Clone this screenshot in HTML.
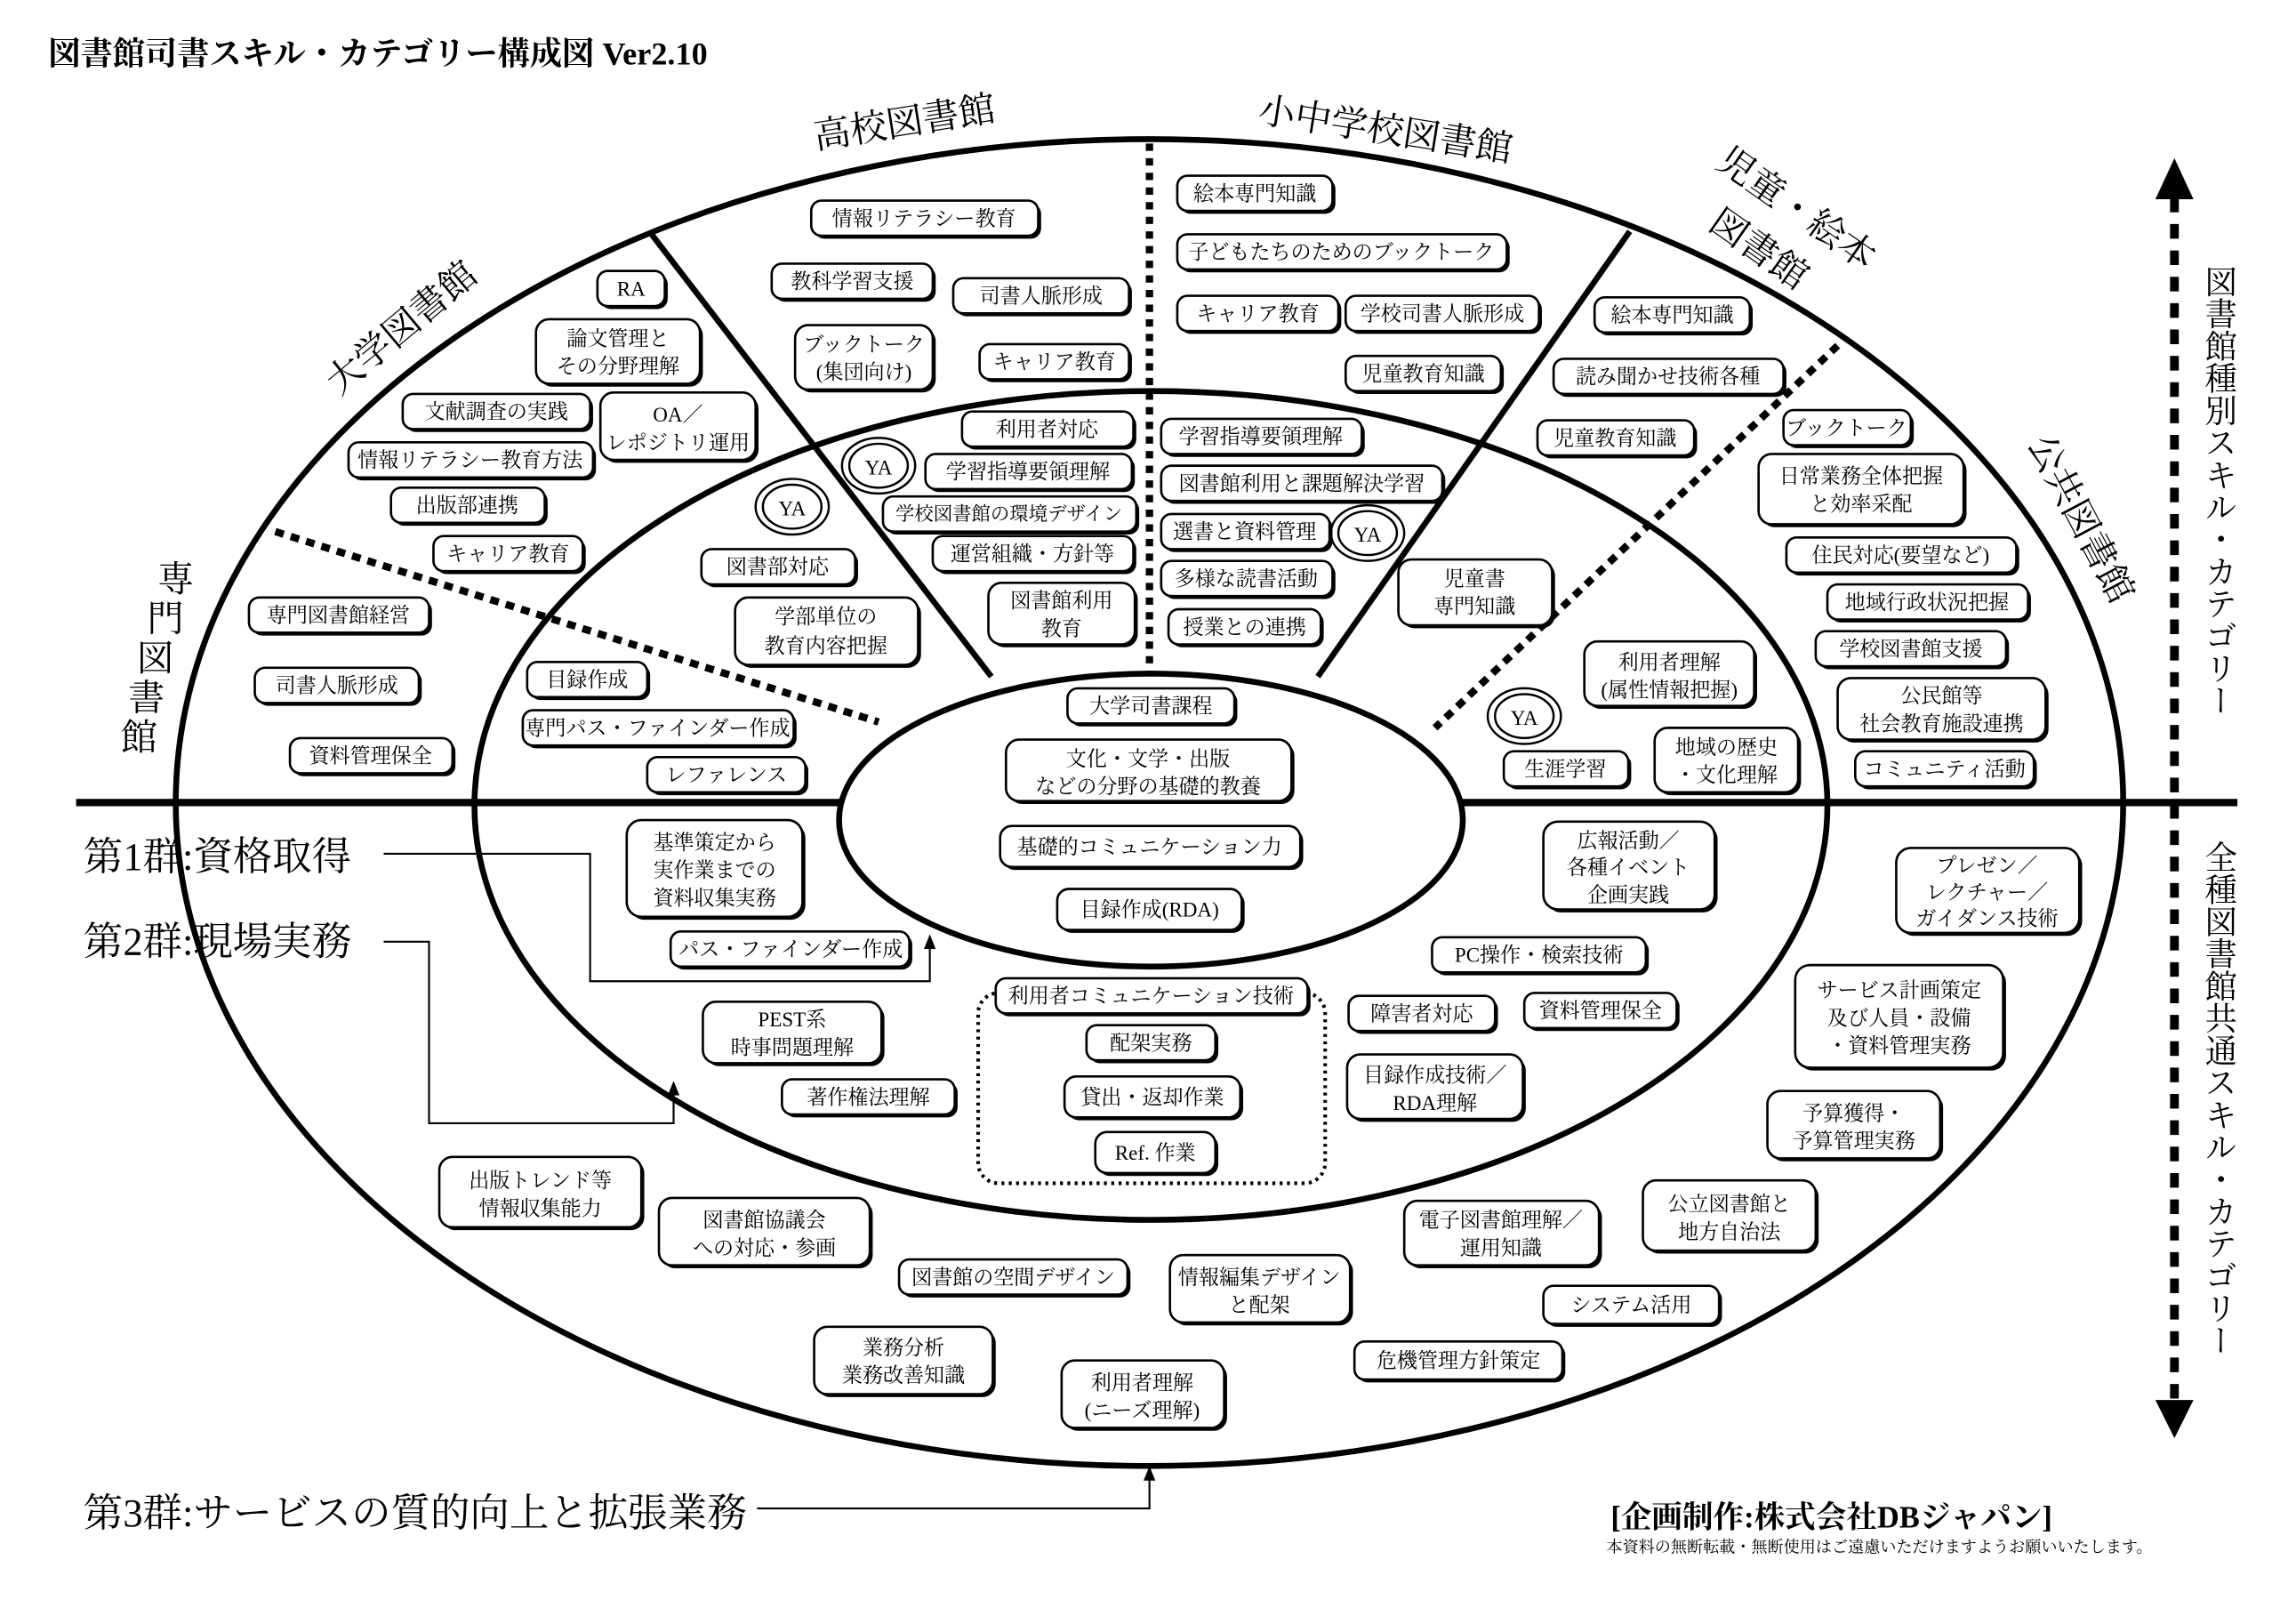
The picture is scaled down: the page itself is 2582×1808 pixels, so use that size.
<!DOCTYPE html>
<html><head><meta charset="utf-8">
<style>
html,body{margin:0;padding:0;background:#fff;}
svg{display:block;}
text{font-family:"Liberation Serif","Noto Serif CJK JP","Noto Sans CJK JP",serif;fill:#000;}
.b text,.t{font-size:14px;text-anchor:middle;dominant-baseline:central;}
.sh{fill:#000;}
.bx{fill:#fff;stroke:#000;stroke-width:1.6;}
.big{font-size:25px;}
</style></head>
<body>
<svg width="2582" height="1808" viewBox="0 0 1568 1098" xmlns="http://www.w3.org/2000/svg">
<rect width="1568" height="1098" fill="#fff"/>
<text x="33" y="44" style="font-size:22px;font-weight:bold">図書館司書スキル・カテゴリー構成図 Ver2.10</text>

<ellipse cx="785" cy="548" rx="665" ry="453" fill="none" stroke="#000" stroke-width="4"/>
<ellipse cx="786" cy="550" rx="462" ry="283" fill="none" stroke="#000" stroke-width="4"/>
<line x1="52" y1="548" x2="1528" y2="548" stroke="#000" stroke-width="5"/>
<line x1="445" y1="160" x2="677" y2="462" stroke="#000" stroke-width="4"/>
<line x1="1113" y1="158" x2="900" y2="462" stroke="#000" stroke-width="4"/>
<line x1="785" y1="98" x2="785" y2="468" stroke="#000" stroke-width="5" stroke-dasharray="5,5"/>
<line x1="188" y1="363" x2="600" y2="493" stroke="#000" stroke-width="5" stroke-dasharray="6,5"/>
<line x1="1255" y1="236" x2="980" y2="497" stroke="#000" stroke-width="5" stroke-dasharray="6,5"/>
<ellipse cx="786" cy="560" rx="213" ry="100" fill="#fff" stroke="#000" stroke-width="4"/>

<line x1="1485" y1="135" x2="1485" y2="958" stroke="#000" stroke-width="6" stroke-dasharray="10,8"/>
<polygon points="1485,108 1472,136 1498,136" fill="#000"/>
<polygon points="1485,982 1472,956 1498,956" fill="#000"/>
<rect x="1500" y="185" width="32" height="300" fill="#fff"/>
<rect x="1500" y="575" width="32" height="350" fill="#fff"/>
<g style="font-size:22px" text-anchor="middle">
<text x="1515" y="335" style="writing-mode:tb;glyph-orientation-vertical:0">図書館種別スキル・カテゴリー</text>
<text x="1515" y="750" style="writing-mode:tb;glyph-orientation-vertical:0">全種図書館共通スキル・カテゴリー</text>
</g>

<text class="big" x="618" y="92" text-anchor="middle" transform="rotate(-9 618 85)">高校図書館</text>
<text class="big" x="946" y="97" text-anchor="middle" transform="rotate(9 946 90)">小中学校図書館</text>
<text class="big" x="275" y="232" text-anchor="middle" transform="rotate(-40 275 225)">大学図書館</text>
<text class="big" x="1225" y="150" text-anchor="middle" transform="rotate(35 1225 145)">児童・絵本</text>
<text class="big" x="1200" y="178" text-anchor="middle" transform="rotate(35 1200 172)">図書館</text>
<text class="big" x="1420" y="362" text-anchor="middle" transform="rotate(62 1420 355)">公共図書館</text>
<g class="big" text-anchor="middle">
<text x="120" y="404">専</text><text x="113" y="431">門</text><text x="106" y="458">図</text><text x="100" y="485">書</text><text x="95" y="512">館</text>
</g>

<text x="57" y="594" style="font-size:27px">第1群:資格取得</text>
<text x="57" y="652" style="font-size:27px">第2群:現場実務</text>
<text x="57" y="1042" style="font-size:27px">第3群:サービスの質的向上と拡張業務</text>
<polyline points="262,583 403,583 403,670 635,670 635,645" fill="none" stroke="#000" stroke-width="1.3"/>
<polygon points="635,638 631,648 639,648" fill="#000"/>
<polyline points="262,643 293,643 293,767 460,767 460,745" fill="none" stroke="#000" stroke-width="1.3"/>
<polygon points="460,738 456,748 464,748" fill="#000"/>
<polyline points="517,1030 785,1030 785,1008" fill="none" stroke="#000" stroke-width="1.3"/>
<polygon points="785,1001 781,1011 789,1011" fill="#000"/>

<text x="1100" y="1043" style="font-size:21px;font-weight:bold">[企画制作:株式会社DBジャパン]</text>
<text x="1097" y="1060" style="font-size:11px">本資料の無断転載・無断使用はご遠慮いただけますようお願いいたします。</text>

<rect x="668" y="678" width="237" height="130" rx="14" fill="none" stroke="#000" stroke-width="2.5" stroke-dasharray="2,3"/>

<g fill="#fff" stroke="#000" stroke-width="1.5">
<ellipse cx="541" cy="346" rx="25" ry="19"/><ellipse cx="541" cy="346" rx="20" ry="15"/>
<ellipse cx="600" cy="318" rx="25" ry="19"/><ellipse cx="600" cy="318" rx="20" ry="15"/>
<ellipse cx="934" cy="364" rx="25" ry="19"/><ellipse cx="934" cy="364" rx="20" ry="15"/>
<ellipse cx="1041" cy="489" rx="25" ry="19"/><ellipse cx="1041" cy="489" rx="20" ry="15"/>
</g>
<g class="t"><text class="t" x="541" y="347">YA</text><text class="t" x="600" y="319">YA</text><text class="t" x="934" y="365">YA</text><text class="t" x="1041" y="490">YA</text></g>

<g class="b">
<rect class="sh" x="556" y="139" width="155" height="24" rx="7"/><rect class="bx" x="554" y="137" width="155" height="24" rx="7"/><text x="631" y="149">情報リテラシー教育</text>
<rect class="sh" x="529" y="182" width="110" height="24" rx="7"/><rect class="bx" x="527" y="180" width="110" height="24" rx="7"/><text x="582" y="192">教科学習支援</text>
<rect class="sh" x="653" y="192" width="120" height="24" rx="7"/><rect class="bx" x="651" y="190" width="120" height="24" rx="7"/><text x="711" y="202">司書人脈形成</text>
<rect class="sh" x="545" y="224" width="94" height="44" rx="9"/><rect class="bx" x="543" y="222" width="94" height="44" rx="9"/><text x="590" y="235">ブックトーク</text><text x="590" y="254">(集団向け)</text>
<rect class="sh" x="671" y="237" width="102" height="24" rx="7"/><rect class="bx" x="669" y="235" width="102" height="24" rx="7"/><text x="720" y="247">キャリア教育</text>
<rect class="sh" x="410" y="187" width="46" height="24" rx="7"/><rect class="bx" x="408" y="185" width="46" height="24" rx="7"/><text x="431" y="197">RA</text>
<rect class="sh" x="368" y="220" width="112" height="44" rx="9"/><rect class="bx" x="366" y="218" width="112" height="44" rx="9"/><text x="422" y="231">論文管理と</text><text x="422" y="250">その分野理解</text>
<rect class="sh" x="277" y="271" width="128" height="24" rx="7"/><rect class="bx" x="275" y="269" width="128" height="24" rx="7"/><text x="339" y="281">文献調査の実践</text>
<rect class="sh" x="412" y="270" width="106" height="46" rx="9"/><rect class="bx" x="410" y="268" width="106" height="46" rx="9"/><text x="463" y="283">OA／</text><text x="463" y="302">レポジトリ運用</text>
<rect class="sh" x="240" y="304" width="167" height="24" rx="7"/><rect class="bx" x="238" y="302" width="167" height="24" rx="7"/><text x="321" y="314">情報リテラシー教育方法</text>
<rect class="sh" x="269" y="335" width="105" height="24" rx="7"/><rect class="bx" x="267" y="333" width="105" height="24" rx="7"/><text x="319" y="345">出版部連携</text>
<rect class="sh" x="298" y="368" width="102" height="24" rx="7"/><rect class="bx" x="296" y="366" width="102" height="24" rx="7"/><text x="347" y="378">キャリア教育</text>
<rect class="sh" x="172" y="410" width="123" height="24" rx="7"/><rect class="bx" x="170" y="408" width="123" height="24" rx="7"/><text x="231" y="420">専門図書館経営</text>
<rect class="sh" x="176" y="458" width="112" height="24" rx="7"/><rect class="bx" x="174" y="456" width="112" height="24" rx="7"/><text x="230" y="468">司書人脈形成</text>
<rect class="sh" x="200" y="506" width="111" height="24" rx="7"/><rect class="bx" x="198" y="504" width="111" height="24" rx="7"/><text x="253" y="516">資料管理保全</text>
<rect class="sh" x="481" y="377" width="105" height="24" rx="7"/><rect class="bx" x="479" y="375" width="105" height="24" rx="7"/><text x="531" y="387">図書部対応</text>
<rect class="sh" x="504" y="410" width="125" height="46" rx="9"/><rect class="bx" x="502" y="408" width="125" height="46" rx="9"/><text x="564" y="421">学部単位の</text><text x="564" y="441">教育内容把握</text>
<rect class="sh" x="362" y="454" width="82" height="24" rx="7"/><rect class="bx" x="360" y="452" width="82" height="24" rx="7"/><text x="401" y="464">目録作成</text>
<rect class="sh" x="359" y="487" width="185" height="24" rx="7"/><rect class="bx" x="357" y="485" width="185" height="24" rx="7"/><text x="449" y="497">専門パス・ファインダー作成</text>
<rect class="sh" x="444" y="519" width="108" height="24" rx="7"/><rect class="bx" x="442" y="517" width="108" height="24" rx="7"/><text x="496" y="529">レファレンス</text>

<rect class="sh" x="659" y="283" width="117" height="24" rx="7"/><rect class="bx" x="657" y="281" width="117" height="24" rx="7"/><text x="715" y="293">利用者対応</text>
<rect class="sh" x="634" y="312" width="141" height="24" rx="7"/><rect class="bx" x="632" y="310" width="141" height="24" rx="7"/><text x="702" y="322">学習指導要領理解</text>
<rect class="sh" x="605" y="341" width="173" height="24" rx="7"/><rect class="bx" x="603" y="339" width="173" height="24" rx="7"/><text x="689" y="351" style="font-size:13px">学校図書館の環境デザイン</text>
<rect class="sh" x="639" y="368" width="137" height="24" rx="7"/><rect class="bx" x="637" y="366" width="137" height="24" rx="7"/><text x="705" y="378">運営組織・方針等</text>
<rect class="sh" x="677" y="400" width="100" height="42" rx="9"/><rect class="bx" x="675" y="398" width="100" height="42" rx="9"/><text x="725" y="410">図書館利用</text><text x="725" y="429">教育</text>

<rect class="sh" x="806" y="122" width="106" height="24" rx="7"/><rect class="bx" x="804" y="120" width="106" height="24" rx="7"/><text x="857" y="132">絵本専門知識</text>
<rect class="sh" x="806" y="162" width="225" height="24" rx="7"/><rect class="bx" x="804" y="160" width="225" height="24" rx="7"/><text x="916" y="172">子どもたちのためのブックトーク</text>
<rect class="sh" x="806" y="204" width="110" height="24" rx="7"/><rect class="bx" x="804" y="202" width="110" height="24" rx="7"/><text x="859" y="214">キャリア教育</text>
<rect class="sh" x="921" y="204" width="132" height="24" rx="7"/><rect class="bx" x="919" y="202" width="132" height="24" rx="7"/><text x="985" y="214">学校司書人脈形成</text>
<rect class="sh" x="921" y="245" width="106" height="24" rx="7"/><rect class="bx" x="919" y="243" width="106" height="24" rx="7"/><text x="972" y="255">児童教育知識</text>
<rect class="sh" x="795" y="288" width="137" height="24" rx="7"/><rect class="bx" x="793" y="286" width="137" height="24" rx="7"/><text x="861" y="298">学習指導要領理解</text>
<rect class="sh" x="795" y="320" width="192" height="24" rx="7"/><rect class="bx" x="793" y="318" width="192" height="24" rx="7"/><text x="889" y="330">図書館利用と課題解決学習</text>
<rect class="sh" x="795" y="353" width="115" height="24" rx="7"/><rect class="bx" x="793" y="351" width="115" height="24" rx="7"/><text x="850" y="363">選書と資料管理</text>
<rect class="sh" x="795" y="385" width="117" height="24" rx="7"/><rect class="bx" x="793" y="383" width="117" height="24" rx="7"/><text x="851" y="395">多様な読書活動</text>
<rect class="sh" x="800" y="418" width="104" height="24" rx="7"/><rect class="bx" x="798" y="416" width="104" height="24" rx="7"/><text x="850" y="428">授業との連携</text>
<rect class="sh" x="957" y="384" width="105" height="45" rx="9"/><rect class="bx" x="955" y="382" width="105" height="45" rx="9"/><text x="1007" y="395">児童書</text><text x="1007" y="414">専門知識</text>

<rect class="sh" x="1091" y="205" width="106" height="24" rx="7"/><rect class="bx" x="1089" y="203" width="106" height="24" rx="7"/><text x="1142" y="215">絵本専門知識</text>
<rect class="sh" x="1063" y="247" width="157" height="24" rx="7"/><rect class="bx" x="1061" y="245" width="157" height="24" rx="7"/><text x="1139" y="257">読み聞かせ技術各種</text>
<rect class="sh" x="1052" y="289" width="107" height="24" rx="7"/><rect class="bx" x="1050" y="287" width="107" height="24" rx="7"/><text x="1103" y="299">児童教育知識</text>
<rect class="sh" x="1220" y="282" width="87" height="24" rx="7"/><rect class="bx" x="1218" y="280" width="87" height="24" rx="7"/><text x="1261" y="292">ブックトーク</text>
<rect class="sh" x="1203" y="312" width="140" height="48" rx="9"/><rect class="bx" x="1201" y="310" width="140" height="48" rx="9"/><text x="1271" y="325">日常業務全体把握</text><text x="1271" y="344">と効率采配</text>
<rect class="sh" x="1222" y="369" width="157" height="24" rx="7"/><rect class="bx" x="1220" y="367" width="157" height="24" rx="7"/><text x="1298" y="379">住民対応(要望など)</text>
<rect class="sh" x="1250" y="401" width="137" height="24" rx="7"/><rect class="bx" x="1248" y="399" width="137" height="24" rx="7"/><text x="1316" y="411">地域行政状況把握</text>
<rect class="sh" x="1242" y="433" width="130" height="24" rx="7"/><rect class="bx" x="1240" y="431" width="130" height="24" rx="7"/><text x="1305" y="443">学校図書館支援</text>
<rect class="sh" x="1257" y="465" width="142" height="42" rx="9"/><rect class="bx" x="1255" y="463" width="142" height="42" rx="9"/><text x="1326" y="475">公民館等</text><text x="1326" y="494">社会教育施設連携</text>
<rect class="sh" x="1269" y="515" width="122" height="24" rx="7"/><rect class="bx" x="1267" y="513" width="122" height="24" rx="7"/><text x="1328" y="525">コミュニティ活動</text>
<rect class="sh" x="1084" y="440" width="116" height="44" rx="9"/><rect class="bx" x="1082" y="438" width="116" height="44" rx="9"/><text x="1140" y="452">利用者理解</text><text x="1140" y="471">(属性情報把握)</text>
<rect class="sh" x="1132" y="499" width="98" height="44" rx="9"/><rect class="bx" x="1130" y="497" width="98" height="44" rx="9"/><text x="1179" y="510">地域の歴史</text><text x="1179" y="529">・文化理解</text>
<rect class="sh" x="1029" y="515" width="85" height="24" rx="7"/><rect class="bx" x="1027" y="513" width="85" height="24" rx="7"/><text x="1069" y="525">生涯学習</text>

<rect class="sh" x="731" y="472" width="114" height="24" rx="7"/><rect class="bx" x="729" y="470" width="114" height="24" rx="7"/><text x="786" y="482">大学司書課程</text>
<rect class="sh" x="689" y="507" width="195" height="42" rx="9"/><rect class="bx" x="687" y="505" width="195" height="42" rx="9"/><text x="784" y="518">文化・文学・出版</text><text x="784" y="537">などの分野の基礎的教養</text>
<rect class="sh" x="685" y="566" width="205" height="28" rx="8"/><rect class="bx" x="683" y="564" width="205" height="28" rx="8"/><text x="785" y="578">基礎的コミュニケーション力</text>
<rect class="sh" x="724" y="609" width="126" height="28" rx="8"/><rect class="bx" x="722" y="607" width="126" height="28" rx="8"/><text x="785" y="621">目録作成(RDA)</text>

<rect class="sh" x="430" y="562" width="120" height="66" rx="10"/><rect class="bx" x="428" y="560" width="120" height="66" rx="10"/><text x="488" y="575">基準策定から</text><text x="488" y="594">実作業までの</text><text x="488" y="613">資料収集実務</text>
<rect class="sh" x="460" y="638" width="163" height="24" rx="7"/><rect class="bx" x="458" y="636" width="163" height="24" rx="7"/><text x="540" y="648">パス・ファインダー作成</text>
<rect class="sh" x="1056" y="563" width="117" height="60" rx="10"/><rect class="bx" x="1054" y="561" width="117" height="60" rx="10"/><text x="1112" y="574">広報活動／</text><text x="1112" y="592">各種イベント</text><text x="1112" y="611">企画実践</text>
<rect class="sh" x="980" y="642" width="146" height="24" rx="7"/><rect class="bx" x="978" y="640" width="146" height="24" rx="7"/><text x="1051" y="652">PC操作・検索技術</text>
<rect class="sh" x="682" y="670" width="213" height="24" rx="7"/><rect class="bx" x="680" y="668" width="213" height="24" rx="7"/><text x="786" y="680">利用者コミュニケーション技術</text>
<rect class="sh" x="744" y="702" width="88" height="24" rx="7"/><rect class="bx" x="742" y="700" width="88" height="24" rx="7"/><text x="786" y="712">配架実務</text>
<rect class="sh" x="729" y="737" width="120" height="28" rx="8"/><rect class="bx" x="727" y="735" width="120" height="28" rx="8"/><text x="787" y="749">貸出・返却作業</text>
<rect class="sh" x="750" y="775" width="82" height="28" rx="8"/><rect class="bx" x="748" y="773" width="82" height="28" rx="8"/><text x="789" y="787">Ref. 作業</text>
<rect class="sh" x="482" y="686" width="122" height="42" rx="9"/><rect class="bx" x="480" y="684" width="122" height="42" rx="9"/><text x="541" y="696">PEST系</text><text x="541" y="715">時事問題理解</text>
<rect class="sh" x="536" y="739" width="118" height="24" rx="7"/><rect class="bx" x="534" y="737" width="118" height="24" rx="7"/><text x="593" y="749">著作権法理解</text>
<rect class="sh" x="923" y="682" width="100" height="24" rx="7"/><rect class="bx" x="921" y="680" width="100" height="24" rx="7"/><text x="971" y="692">障害者対応</text>
<rect class="sh" x="1043" y="680" width="104" height="24" rx="7"/><rect class="bx" x="1041" y="678" width="104" height="24" rx="7"/><text x="1093" y="690">資料管理保全</text>
<rect class="sh" x="922" y="722" width="120" height="44" rx="9"/><rect class="bx" x="920" y="720" width="120" height="44" rx="9"/><text x="980" y="734">目録作成技術／</text><text x="980" y="753">RDA理解</text>
<rect class="sh" x="1297" y="581" width="125" height="58" rx="10"/><rect class="bx" x="1295" y="579" width="125" height="58" rx="10"/><text x="1357" y="591">プレゼン／</text><text x="1357" y="609">レクチャー／</text><text x="1357" y="627">ガイダンス技術</text>
<rect class="sh" x="1228" y="661" width="142" height="70" rx="10"/><rect class="bx" x="1226" y="659" width="142" height="70" rx="10"/><text x="1297" y="676">サービス計画策定</text><text x="1297" y="695">及び人員・設備</text><text x="1297" y="714">・資料管理実務</text>
<rect class="sh" x="1209" y="747" width="118" height="46" rx="9"/><rect class="bx" x="1207" y="745" width="118" height="46" rx="9"/><text x="1266" y="760">予算獲得・</text><text x="1266" y="779">予算管理実務</text>
<rect class="sh" x="302" y="792" width="138" height="48" rx="9"/><rect class="bx" x="300" y="790" width="138" height="48" rx="9"/><text x="369" y="806">出版トレンド等</text><text x="369" y="825">情報収集能力</text>
<rect class="sh" x="452" y="820" width="144" height="46" rx="9"/><rect class="bx" x="450" y="818" width="144" height="46" rx="9"/><text x="522" y="833">図書館協議会</text><text x="522" y="852">への対応・参画</text>
<rect class="sh" x="616" y="862" width="156" height="24" rx="7"/><rect class="bx" x="614" y="860" width="156" height="24" rx="7"/><text x="692" y="872">図書館の空間デザイン</text>
<rect class="sh" x="801" y="859" width="123" height="46" rx="9"/><rect class="bx" x="799" y="857" width="123" height="46" rx="9"/><text x="860" y="872">情報編集デザイン</text><text x="860" y="891">と配架</text>
<rect class="sh" x="961" y="822" width="133" height="44" rx="9"/><rect class="bx" x="959" y="820" width="133" height="44" rx="9"/><text x="1025" y="833">電子図書館理解／</text><text x="1025" y="852">運用知識</text>
<rect class="sh" x="1124" y="808" width="118" height="48" rx="9"/><rect class="bx" x="1122" y="806" width="118" height="48" rx="9"/><text x="1181" y="822">公立図書館と</text><text x="1181" y="841">地方自治法</text>
<rect class="sh" x="1056" y="880" width="120" height="26" rx="7"/><rect class="bx" x="1054" y="878" width="120" height="26" rx="7"/><text x="1114" y="891">システム活用</text>
<rect class="sh" x="927" y="918" width="142" height="26" rx="7"/><rect class="bx" x="925" y="916" width="142" height="26" rx="7"/><text x="996" y="929">危機管理方針策定</text>
<rect class="sh" x="558" y="908" width="122" height="46" rx="9"/><rect class="bx" x="556" y="906" width="122" height="46" rx="9"/><text x="617" y="920">業務分析</text><text x="617" y="939">業務改善知識</text>
<rect class="sh" x="727" y="931" width="111" height="46" rx="9"/><rect class="bx" x="725" y="929" width="111" height="46" rx="9"/><text x="780" y="944">利用者理解</text><text x="780" y="963">(ニーズ理解)</text>
</g>
</svg>
</body></html>
